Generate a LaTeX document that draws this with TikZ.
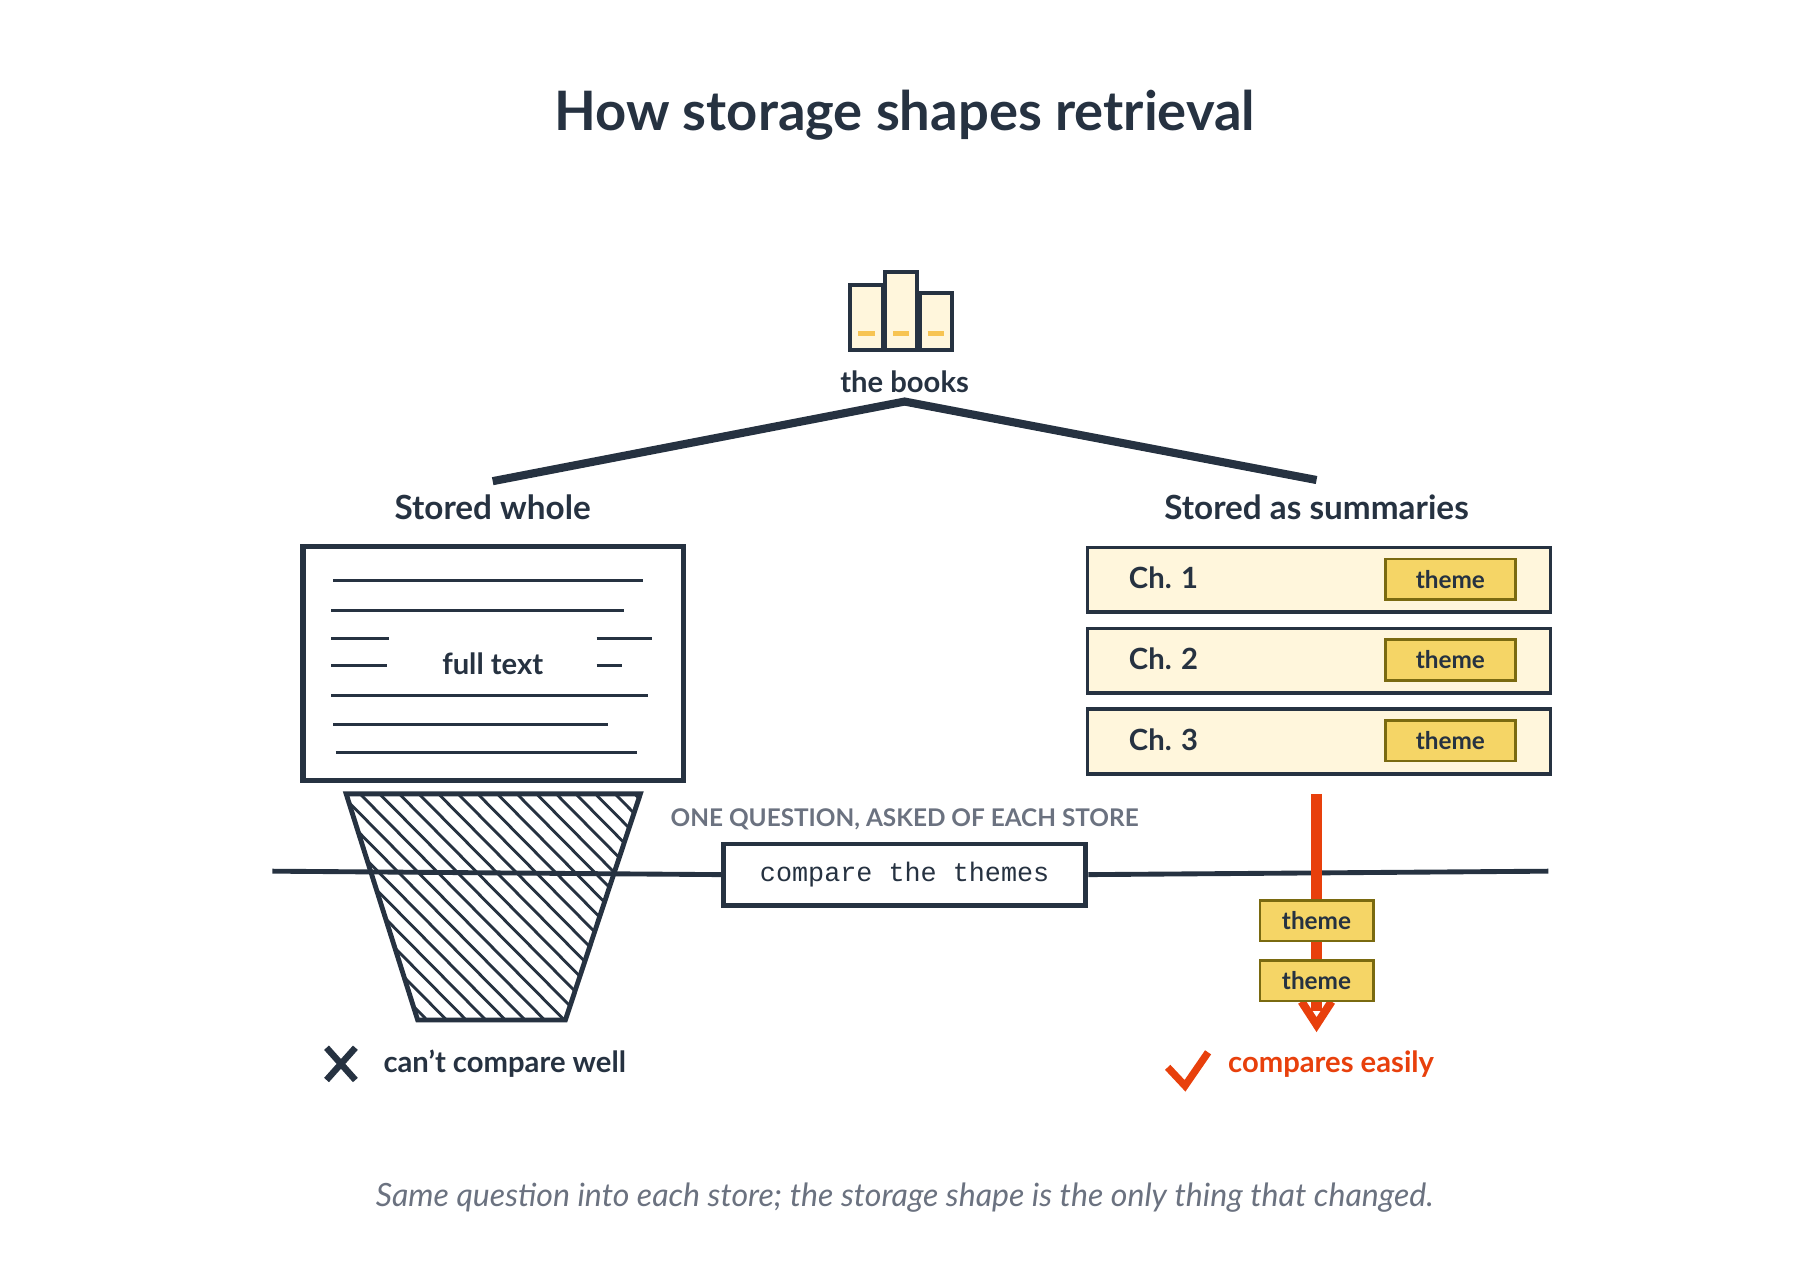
\documentclass[tikz,border=0pt]{standalone}
\usepackage{fontspec}
\setmainfont{Lato}
\newfontfamily\monofont{Liberation Mono}
\usetikzlibrary{positioning}

\definecolor{ink}{HTML}{263241}
\definecolor{cream}{HTML}{FFF6DC}
\definecolor{tagfill}{HTML}{F5D566}
\definecolor{tagline}{HTML}{7A6A10}
\definecolor{alert}{HTML}{E8400C}
\definecolor{muted}{HTML}{6B7280}

\tikzset{
  lbl/.style={font=\bfseries\fontsize{8.2}{10}\selectfont,text=ink},
  small/.style={font=\bfseries\fontsize{7.2}{9}\selectfont,text=ink},
  row/.style={draw=ink,line width=0.9pt,fill=cream,minimum width=4.01cm,minimum height=0.56cm,anchor=north west},
  tag/.style={draw=tagline,line width=0.7pt,fill=tagfill,font=\bfseries\fontsize{6}{8}\selectfont,text=ink,minimum width=1.13cm,minimum height=0.35cm,inner sep=0pt},
  book/.style={draw=ink,line width=1pt,fill=cream},
  txt/.style={draw=ink,line width=0.7pt}
}

\begin{document}
\begin{tikzpicture}[x=0.01cm,y=-0.01cm]
\useasboundingbox[fill=white] (0,0) rectangle (1560,1108);

% title
\node[font=\bfseries\fontsize{13.4}{16}\selectfont,text=ink] (title) at (784,100) {How storage shapes retrieval};

% the books
\draw[book] (737,247) rectangle (765,303);
\draw[book] (767,236) rectangle (795,303);
\draw[book] (797,254) rectangle (825,303);
\foreach \x in {751,781,811} \draw[tagfill!80!orange,line width=1.2pt] (\x-7,289) -- (\x+7,289);
\node[small] (books) at (784,331) {the books};
\coordinate (apex) at (784,348);
\coordinate (lefttop) at (427,417);
\coordinate (righttop) at (1141,416);
\draw[ink,line width=2pt] (lefttop) -- (apex) -- (righttop);

\node[lbl] (whole) at (427,440) {Stored whole};
\node[lbl] (summ) at (1141,440) {Stored as summaries};

% stored whole
\draw[ink,line width=1.1pt] (262,473) rectangle (593,677);
\draw[ink,line width=0.5pt] (264,475) rectangle (591,675);
\node[small] (full) at (427,575) {full text};
\draw[txt] (289,503) -- (557,503);
\draw[txt] (287,529) -- (541,529);
\draw[txt] (287,553) -- (337,553);
\draw[txt] (517,553) -- (565,553);
\draw[txt] (287,577) -- (335,577);
\draw[txt] (517,577) -- (539,577);
\draw[txt] (287,603) -- (562,603);
\draw[txt] (289,628) -- (527,628);
\draw[txt] (291,652) -- (552,652);

% funnel
\begin{scope}
\clip (300,688) -- (555,688) -- (490,884) -- (362,884) -- cycle;
\foreach \k in {-260,-243,...,300} \draw[ink,line width=0.7pt] (300+\k,688) -- (500+\k,890);
\end{scope}
\draw[ink,line width=1.2pt] (300,688) -- (555,688) -- (490,884) -- (362,884) -- cycle;

% query line
\node[draw=ink,line width=1.2pt,fill=white,minimum width=3.14cm,minimum height=0.53cm,font=\monofont\fontsize{6.6}{8}\selectfont,text=ink] (query) at (784,758) {compare the themes};
\coordinate (qleft) at (236,755);
\coordinate (qright) at (1342,755);
\node[font=\bfseries\fontsize{6}{7}\selectfont,text=muted] (qlabel) at (784,710) {ONE QUESTION, ASKED OF EACH STORE};

% summaries
\foreach \i/\y in {1/473,2/543,3/613}{
  \node[row] (ch\i) at (941,\y) {};
  \node[small,anchor=west] (chl\i) at (966,\y+28) {Ch. \i};
  \node[tag] (t\i) at (1257,\y+29) {theme};
}
\draw[ink,line width=1.2pt] (qleft) -- (query.west);
\draw[ink,line width=1.2pt] (query.east) -- (qright);

% red arrow
\coordinate (astart) at (1141,688);
\coordinate (aend) at (1141,888);
\draw[alert,line width=2.8pt] (astart) -- (1141,876);
\draw[alert,line width=2pt] (1128,868) -- (aend) -- (1154,868);
\node[tag,minimum width=0.98cm] (r1) at (1141,798) {theme};
\node[tag,minimum width=0.98cm] (r2) at (1141,850) {theme};

% outcomes
\draw[ink,line width=1.6pt] (283,908) -- (308,936) (308,908) -- (283,936);
\node[small,anchor=west] (bad) at (320,922) {can't compare well};
\draw[alert,line width=1.8pt] (1012,925) -- (1027,941) -- (1047,912);
\node[small,text=alert,anchor=west] (good) at (1052,922) {compares easily};

% caption
\node[font=\itshape\fontsize{7.9}{10}\selectfont,text=muted] (cap) at (784,1038) {Same question into each store; the storage shape is the only thing that changed.};
\end{tikzpicture}
\end{document}
